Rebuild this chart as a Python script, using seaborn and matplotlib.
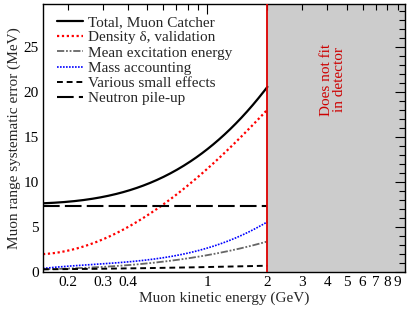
import numpy as np
import pandas as pd
import matplotlib
matplotlib.use("Agg")
import matplotlib.pyplot as plt
import seaborn as sns
from matplotlib.ticker import FixedLocator, FixedFormatter, MultipleLocator, FuncFormatter

sns.set_theme(style="white")
plt.rcParams['font.family'] = ['Liberation Serif', 'DejaVu Serif']

energy = [0.15, 0.215, 0.316, 0.412, 0.463, 0.593, 0.68, 1.0, 1.46, 2.0]
total = [7.6, 7.95, 8.5, 9.1, 9.5, 10.4, 11.1, 13.9, 16.9, 20.6]
density = [1.95, 2.6, 3.9, 5.2, 5.8, 7.3, 8.2, 11.9, 14.7, 18.1]
mean_exc = [0.3, 0.4, 0.6, 0.8, 0.9, 1.1, 1.3, 1.9, 2.6, 3.4]
mass = [0.45, 0.6, 0.9, 1.2, 1.35, 1.6, 1.75, 2.6, 4.0, 5.6]
small = [0.3, 0.33, 0.37, 0.4, 0.42, 0.46, 0.48, 0.55, 0.63, 0.7]
pileup = [7.3, 7.3, 7.3, 7.3, 7.3, 7.3, 7.3, 7.3, 7.3, 7.3]

labels = ["Total, Muon Catcher", "Density \u03b4, validation", "Mean excitation energy",
          "Mass accounting", "Various small effects", "Neutron pile-up"]
xtick_vals = [0.2, 0.3, 0.4, 1, 2, 3, 4, 5, 6, 7, 8, 9]
xtick_text = ["0.2", "0.3", "0.4", "1", "2", "3", "4", "5", "6", "7", "8", "9"]

fig = plt.figure(figsize=(4.15, 3.11), dpi=100)
ax = fig.add_axes([0.1036, 0.1254, 0.8724, 0.8616])

def smooth(xs, ys):
    lx = np.log10(xs)
    fine = np.linspace(lx[0], lx[-1], 200)
    c = np.polyfit(lx, ys, 3)
    return 10**fine, np.polyval(c, fine)

series = [total, density, mean_exc, mass, small, pileup]
styles = [
    dict(color="black", lw=1.6, ls="-"),
    dict(color="red", lw=1.6, ls=(0, (1, 1.2))),
    dict(color="#666666", lw=1.3, ls=(0, (4, 1, 1, 1, 1, 1))),
    dict(color="blue", lw=1.2, ls=(0, (1, 0.8))),
    dict(color="black", lw=1.4, ls=(0, (3, 2))),
    dict(color="black", lw=1.5, ls=(0, (8, 2.5))),
]
for ys, lab, st in zip(series, labels, styles):
    fx, fy = smooth(np.array(energy), np.array(ys))
    df = pd.DataFrame({"E": fx, "err": fy})
    sns.lineplot(data=df, x="E", y="err", ax=ax, label=lab, estimator=None,
                 sort=True, color=st["color"], linewidth=st["lw"], linestyle=st["ls"])

ax.set_xscale("log")
ax.set_xlim(0.15, 9.8)
ax.set_ylim(0, 29.8)
ax.axvspan(2, 10, color="#cccccc", zorder=0)
ax.axvline(2, color="#dd0000", lw=1.3, zorder=3)
ax.text(4.25, 21.4, "Does not fit\nin detector", rotation=90, color="#cc0000",
        ha="center", va="center", fontsize=11, linespacing=1.0)

ax.xaxis.set_major_locator(FixedLocator([1]))
ax.xaxis.set_major_formatter(FixedFormatter(["1"]))
ax.xaxis.set_minor_locator(FixedLocator([0.2, 0.3, 0.4, 0.5, 0.6, 0.7, 0.8, 0.9,
                                          2, 3, 4, 5, 6, 7, 8, 9]))
ax.xaxis.set_minor_formatter(FuncFormatter(
    lambda v, p: next((t for k, t in zip(xtick_vals, xtick_text) if abs(k - v) < 1e-6 and k != 1), "")))
ax.yaxis.set_major_locator(MultipleLocator(5))
ax.yaxis.set_minor_locator(MultipleLocator(1))

ax.tick_params(which="both", direction="in", top=True, right=True, labelsize=11, colors="black",
               pad=3)
ax.tick_params(which="major", length=7, width=0.8)
ax.tick_params(which="minor", length=4, width=0.8)
for s in ax.spines.values():
    s.set_color("black")
    s.set_linewidth(1.0)

ax.set_xlabel("Muon kinetic energy (GeV)", fontsize=11, labelpad=2)
ax.set_ylabel("Muon range systematic error (MeV)", fontsize=11, labelpad=2)

leg = ax.legend(loc="upper left", frameon=False, fontsize=11, handlelength=1.7,
                handletextpad=0.3, labelspacing=0.1, borderaxespad=0.3,
                bbox_to_anchor=(0.01, 0.997))

fig.savefig("out.png", dpi=100)
